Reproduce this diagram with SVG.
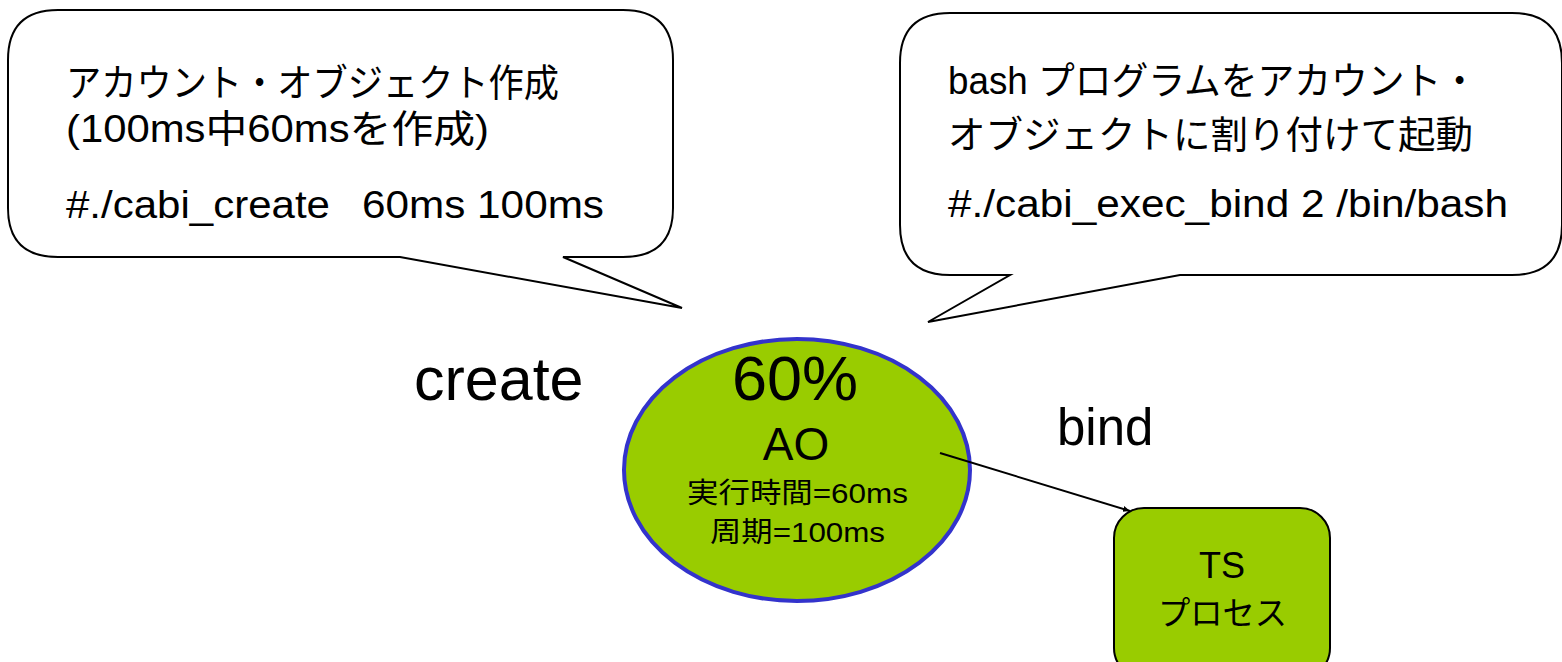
<svg xmlns="http://www.w3.org/2000/svg" width="1562" height="662" viewBox="0 0 1562 662">
<defs>
<style>
.t{font-family:"Liberation Sans","Noto Sans CJK JP",sans-serif;fill:#000}
.c{font-size:38px}
.call{fill:#fff;stroke:#000;stroke-width:2}
.node{fill:#99cc00}
</style>
<marker id="ah" markerWidth="8" markerHeight="8" refX="7" refY="4" orient="auto" markerUnits="userSpaceOnUse">
<path d="M0,1 L7,4 L0,7 z" fill="#000"/>
</marker>
</defs>
<rect width="1562" height="662" fill="#fff"/>
<g id="callout-create">
<path class="call" d="M58,10 H623 Q673,10 673,60 V208 Q673,257 623,257 H563 L682,308 L400,257 H58 Q8,257 8,208 V60 Q8,10 58,10 Z"/>
<text class="t c" x="66" y="96" textLength="493" lengthAdjust="spacingAndGlyphs">アカウント・オブジェクト作成</text>
<text class="t c" x="66" y="142" textLength="423" lengthAdjust="spacingAndGlyphs">(100ms中60msを作成)</text>
<text class="t c" x="66" y="218" textLength="264" lengthAdjust="spacingAndGlyphs">#./cabi_create</text>
<text class="t c" x="362" y="218" textLength="242" lengthAdjust="spacingAndGlyphs">60ms 100ms</text>
</g>
<g id="callout-bind">
<path class="call" d="M950,13 H1512 Q1562,13 1562,63 V225 Q1562,275 1512,275 H1180 L928,322 L1010,275 H950 Q900,275 900,225 V63 Q900,13 950,13 Z"/>
<text class="t c" x="948" y="94" textLength="530" lengthAdjust="spacingAndGlyphs">bash プログラムをアカウント・</text>
<text class="t c" x="948" y="148" textLength="525" lengthAdjust="spacingAndGlyphs">オブジェクトに割り付けて起動</text>
<text class="t c" x="948" y="217" textLength="560" lengthAdjust="spacingAndGlyphs">#./cabi_exec_bind 2 /bin/bash</text>
</g>
<g id="label-create">
<text class="t" x="414" y="400" font-size="61">create</text>
</g>
<g id="label-bind">
<text class="t" x="1057" y="445" font-size="51">bind</text>
</g>
<g id="node-ao">
<ellipse class="node" cx="797" cy="470" rx="173" ry="131" stroke="#3333cc" stroke-width="4"/>
<text class="t" x="795" y="400" font-size="63" text-anchor="middle">60%</text>
<text class="t" x="796" y="460" font-size="46" text-anchor="middle">AO</text>
<text class="t" x="687" y="503" font-size="28" textLength="221" lengthAdjust="spacingAndGlyphs">実行時間=60ms</text>
<text class="t" x="710" y="542" font-size="28" textLength="175" lengthAdjust="spacingAndGlyphs">周期=100ms</text>
</g>
<g id="node-ts">
<rect class="node" x="1114" y="508" width="216" height="170" rx="30" stroke="#000" stroke-width="2"/>
<text class="t" x="1222" y="578" font-size="36" text-anchor="middle">TS</text>
<text class="t" x="1158" y="625" font-size="33" textLength="129" lengthAdjust="spacingAndGlyphs">プロセス</text>
</g>
<g id="connectors">
<line x1="940" y1="453" x2="1130" y2="511" stroke="#000" stroke-width="2" marker-end="url(#ah)"/>
</g>
</svg>
